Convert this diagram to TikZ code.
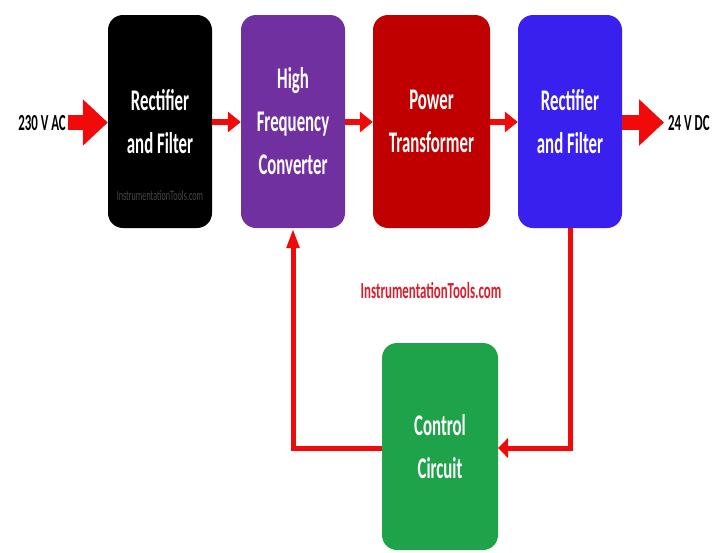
\documentclass[tikz,border=0pt]{standalone}
\usepackage{fontspec}
\setmainfont{Carlito}[FakeStretch=0.56]
\usetikzlibrary{arrows.meta}
\definecolor{cblack}{HTML}{000000}
\definecolor{cpurple}{HTML}{7030A0}
\definecolor{cred}{HTML}{C00000}
\definecolor{cblue}{HTML}{3A20EE}
\definecolor{cgreen}{HTML}{1FA34A}
\definecolor{arr}{HTML}{F00A0A}
\definecolor{wm}{HTML}{DC1E2C}
\tikzset{
  blk/.style={rectangle, rounded corners=15pt, minimum width=104pt, minimum height=213pt,
    text=white, align=center, font=\bfseries\fontsize{30}{43}\selectfont, inner sep=0pt},
  bigarr/.style={draw=arr, line width=15pt, -{Triangle[length=25pt,width=45pt]}},
  smallarr/.style={draw=arr, line width=6pt, -{Triangle[length=13pt,width=20pt]}},
  fb/.style={draw=arr, line width=5pt},
  lbl/.style={font=\bfseries\fontsize{23}{26}\selectfont, text=black, inner sep=0pt}
}
\begin{document}
\begin{tikzpicture}[x=1pt,y=-1pt]
\useasboundingbox (0,0) rectangle (715,552);
\node[blk, fill=cblack] (rf1) at (160,121.5) {Rectifier\\and Filter};
\node[font=\fontsize{14.5}{16}\selectfont, text=gray!55!black] (wm1) at (160,196) {InstrumentationTools.com};
\node[blk, fill=cpurple] (hfc) at (293,121.5) {High\\Frequency\\Converter};
\node[blk, fill=cred, minimum width=117pt] (pt) at (431.5,121.5) {Power\\Transformer};
\node[blk, fill=cblue] (rf2) at (570,121.5) {Rectifier\\and Filter};
\node[blk, fill=cgreen, minimum width=116pt, minimum height=207pt] (cc) at (440,446.5) {Control\\Circuit};
\node[font=\bfseries\fontsize{23}{25}\selectfont, text=wm] (wm2) at (431,290) {InstrumentationTools.com};
\node[lbl, anchor=east] (in) at (66,123) {230 V AC};
\node[lbl, anchor=west] (out) at (668,123) {24 V DC};
\coordinate (ins) at (68,122.5);
\coordinate (oute) at (664,122.5);
\draw[bigarr] (ins) -- (rf1.west |- ins);
\draw[bigarr] (rf2.east |- oute) -- (oute);
\draw[smallarr] (rf1.east |- 0,122) -- (hfc.west |- 0,122);
\draw[smallarr] (hfc.east |- 0,122) -- (pt.west |- 0,122);
\draw[smallarr] (pt.east |- 0,122) -- (rf2.west |- 0,122);
\coordinate (fbr) at (570,448);
\coordinate (fbl) at (293,448);
\draw[fb, -{Triangle[length=10pt,width=20pt]}] (rf2.south) -- (fbr) -- (cc.east |- fbr);
\draw[fb, -{Triangle[length=20pt,width=12pt]}] (cc.west |- fbl) -- (fbl) -- (hfc.south);
\end{tikzpicture}
\end{document}
